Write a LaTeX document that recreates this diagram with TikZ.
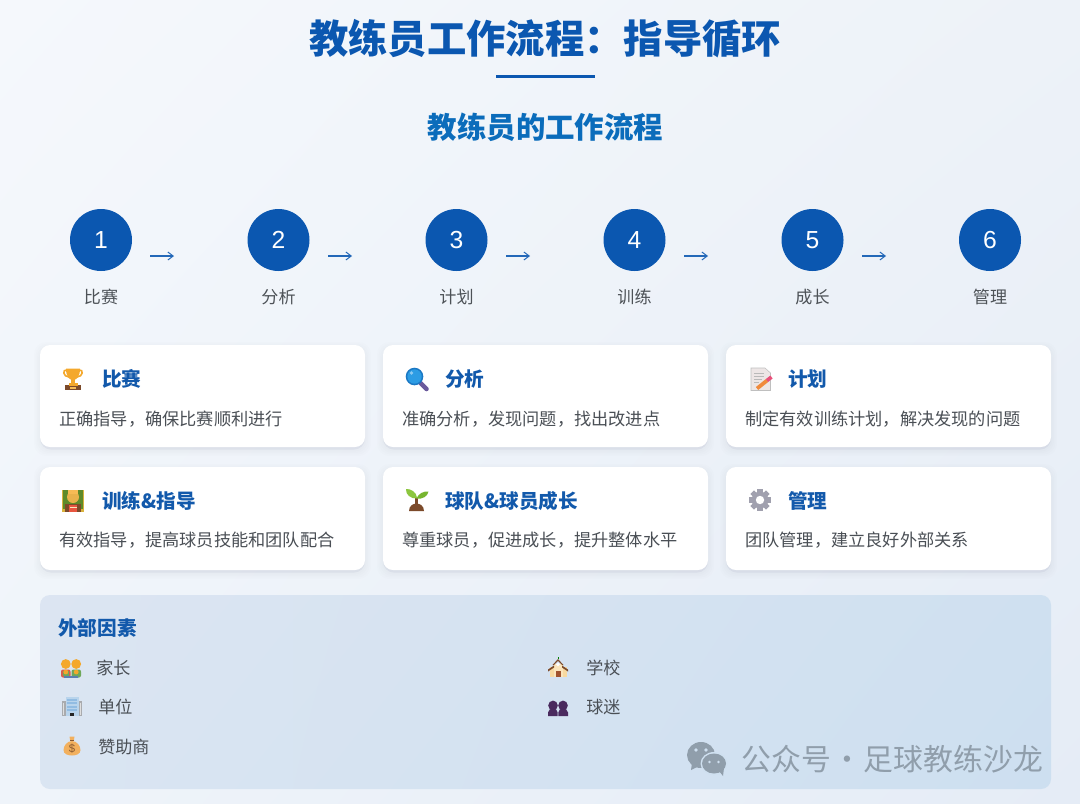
\documentclass[tikz,border=0pt]{standalone}
\usepackage{fontspec}
\setmainfont{Noto Sans CJK SC}
\newfontfamily\latinf{Liberation Sans}
\usetikzlibrary{arrows.meta,shadings}
\definecolor{bgA}{HTML}{F5F8FC}
\definecolor{bgB}{HTML}{EDF2F8}
\definecolor{bgC}{HTML}{EFF4FA}
\definecolor{bgD}{HTML}{E5ECF6}
\definecolor{panA}{HTML}{DCE5F2}
\definecolor{panB}{HTML}{CFE0F0}
\definecolor{panC}{HTML}{DAE5F2}
\definecolor{panD}{HTML}{CDDFF0}
\definecolor{mainblue}{HTML}{0B57B0}
\definecolor{subblue}{HTML}{0B6CBB}
\definecolor{cardblue}{HTML}{1259AB}
\definecolor{bodygray}{HTML}{4A4F55}
\definecolor{labelgray}{HTML}{4D5257}
\definecolor{markgray}{HTML}{909EAB}
\definecolor{gold}{HTML}{F4A82C}
\definecolor{goldlt}{HTML}{F7BB55}
\definecolor{brownd}{HTML}{7C4A2A}
\definecolor{lensring}{HTML}{1B78C4}
\definecolor{lensfill}{HTML}{2C9CE4}
\definecolor{lenshandle}{HTML}{6A5A9C}
\definecolor{paper}{HTML}{EDE6E6}
\definecolor{pencil}{HTML}{F08A3C}
\definecolor{pinktip}{HTML}{E8507A}
\definecolor{board}{HTML}{5E8A2A}
\definecolor{frameY}{HTML}{D9B23C}
\definecolor{skin}{HTML}{E9B24C}
\definecolor{tiered}{HTML}{E8553F}
\definecolor{leaf}{HTML}{8CC63F}
\definecolor{leafd}{HTML}{77B52F}
\definecolor{gearc}{HTML}{A0A0AE}
\definecolor{bodyred}{HTML}{D8604A}
\definecolor{bodygrn}{HTML}{6FA85A}
\definecolor{bodyblu}{HTML}{5A7FB0}
\definecolor{officeg}{HTML}{A9ABAE}
\definecolor{officeb}{HTML}{B9D4EC}
\definecolor{officew}{HTML}{92BCE2}
\definecolor{bagc}{HTML}{F2B05E}
\definecolor{bagd}{HTML}{8A5A30}
\definecolor{cream}{HTML}{F8D9A0}
\definecolor{creamb}{HTML}{FBE5BC}
\definecolor{doorc}{HTML}{A0522D}
\definecolor{fanc}{HTML}{4A2A5E}
\tikzset{
  titletxt/.style={inner sep=0pt,text height=26pt,text depth=3.5pt,font=\fontsize{29.5pt}{32pt}\selectfont\bfseries,text=mainblue},
  subtxt/.style={inner sep=0pt,text height=19.4pt,text depth=2.7pt,font=\fontsize{22.1pt}{25pt}\selectfont\bfseries,text=subblue},
  stepnode/.style={circle,fill=mainblue,minimum size=46.5pt,inner sep=0pt,text=white,font=\latinf\fontsize{18.5pt}{20pt}\selectfont},
  steplbl/.style={inner sep=0pt,text height=11.3pt,text depth=1.5pt,font=\fontsize{12.8pt}{15pt}\selectfont,text=labelgray},
  flowarrow/.style={draw=mainblue!90!white,line width=.85pt,-{Straight Barb[length=4pt,width=6pt,line width=.75pt]}},
  cardbox/.style={rectangle,rounded corners=7.5pt,fill=white,inner sep=0pt,minimum width=243.75pt},
  cardtitle/.style={inner sep=0pt,text height=12.9pt,text depth=1.8pt,anchor=west,font=\fontsize{14.7pt}{17pt}\selectfont\bfseries,text=cardblue},
  cardbody/.style={inner sep=0pt,text height=11.35pt,text depth=1.55pt,anchor=west,font=\fontsize{12.9pt}{15pt}\selectfont,text=bodygray},
  extitem/.style={inner sep=0pt,text height=11.3pt,text depth=1.5pt,anchor=west,font=\fontsize{12.8pt}{15pt}\selectfont,text=bodygray},
  marktxt/.style={inner sep=0pt,text height=19.8pt,text depth=2.7pt,anchor=west,font=\fontsize{22.4pt}{24pt}\selectfont,text=markgray},
}
% ---- icons, drawn about (0,0) in pixel units, y downwards
\newcommand\icontrophy{%
  \fill[brownd] (-8,6) rectangle (8,11);
  \fill[goldlt] (-3,7.5) rectangle (3,9.8);
  \fill[gold] (-2,0) rectangle (2,6);
  \fill[gold] (-4.5,4) rectangle (4.5,6.5);
  \draw[gold,line width=1.2pt] (-6,-9) .. controls (-11,-10) and (-10,-2) .. (-4,-2);
  \draw[gold,line width=1.2pt] (6,-9) .. controls (11,-10) and (10,-2) .. (4,-2);
  \fill[gold] (-7,-10.5) -- (7,-10.5) .. controls (7,-3) and (4,1) .. (0,1) .. controls (-4,1) and (-7,-3) .. (-7,-10.5) -- cycle;
}
\newcommand\iconlens{%
  \draw[line width=3.4pt,line cap=round,color=lenshandle] (4,4) -- (10,10);
  \fill[lensring] (-2,-2.5) circle (8.8);
  \fill[lensfill] (-2,-2.5) circle (7.2);
  \fill[white,opacity=.45] (-5,-6) circle (1.8);
}
\newcommand\iconmemo{%
  \fill[paper,draw=gray!50,line width=.4pt] (-10,-11) -- (4,-11) -- (9.5,-6) -- (9.5,11.5) -- (-10,11.5) -- cycle;
  \draw[gray!55,line width=.5pt] (-7,-6) -- (3,-6) (-7,-3) -- (3,-3) (-7,0) -- (1,0) (-7,3) -- (-2,3);
  \draw[pencil,line width=2.8pt] (-4,9.5) -- (6,1.5);
  \draw[pinktip,line width=2.8pt] (6,1.5) -- (10.5,-2);
}
\newcommand\iconcoach{%
  \fill[frameY] (-11,-11) rectangle (11,11);
  \fill[board] (-10,-10.5) rectangle (10,8);
  \fill[brownd] (-8,11) -- (-8,3.5) -- (8,3.5) -- (8,11) -- cycle;
  \fill[tiered] (-4,4.5) rectangle (4,11);
  \fill[creamb] (-3.5,6) rectangle (3.5,7.5);
  \fill[skin] (0,-3.5) circle (6);
  \fill[goldlt] (-5,-11) rectangle (5,-6.5);
}
\newcommand\iconsprout{%
  \fill[brownd] (-7.5,10.5) .. controls (-7.5,5) and (-3,3) .. (0,3) .. controls (3,3) and (7.5,5) .. (7.5,10.5) -- cycle;
  \fill[brownd] (-1.3,4) rectangle (1.3,-3);
  \fill[leaf] (0.8,-2) .. controls (0,-9) and (-6,-11.8) .. (-10.5,-11.5) .. controls (-11,-6) and (-6,-1.5) .. (0.8,-2) -- cycle;
  \fill[leafd] (0,-2) .. controls (2,-7) and (7,-9.5) .. (12,-9) .. controls (11,-4) and (6,-1) .. (0,-2) -- cycle;
}
\newcommand\icongear{%
  \foreach \a in {0,45,...,315}{\fill[gearc,rotate=\a] (-2.6,-11) rectangle (2.6,-6);}
  \fill[gearc] (0,0) circle (8.4);
  \fill[white] (0,0) circle (4.2);
}
\newcommand\iconparents{%
  \fill[bodyred,rounded corners=1.5pt] (-10,10) -- (-10,2) -- (-0.5,2) -- (-0.5,10) -- cycle;
  \fill[bodygrn,rounded corners=1.5pt] (0.5,10) -- (0.5,2) -- (10,2) -- (10,10) -- cycle;
  \fill[bodyblu] (-7,8) rectangle (7,10);
  \fill[bodygrn] (-8,3) rectangle (-2.5,8);
  \fill[gold] (-5.2,-3.5) circle (4.9);
  \fill[gold] (5.2,-3.5) circle (4.9);
  \fill[gold] (-5.2,4.5) circle (2.4);
  \fill[gold] (5.2,4.5) circle (2.4);
}
\newcommand\iconoffice{%
  \fill[officeg] (-10,-6) rectangle (10,9.5);
  \fill[officeb] (-6.5,-9.5) rectangle (6.5,9.5);
  \foreach \y in {-8,-4.5,-1,2.5}{\fill[officew] (-5,\y) rectangle (5,\y+2);}
  \fill[black!85] (-2,6) rectangle (2,9.5);
  \draw[white!75!gray,line width=.7pt] (-8.3,-4) -- (-8.3,8) (8.3,-4) -- (8.3,8);
}
\newcommand\iconbag{%
  \fill[bagc] (-2.5,-9.5) -- (2.5,-9.5) -- (1.8,-5) -- (-1.8,-5) -- cycle;
  \fill[bagc] (0,-5) .. controls (5,-5) and (8.5,0) .. (8.5,4) .. controls (8.5,8) and (4,9.5) .. (0,9.5) .. controls (-4,9.5) and (-8.5,8) .. (-8.5,4) .. controls (-8.5,0) and (-5,-5) .. (0,-5) -- cycle;
  \fill[bagd] (-2.2,-6) rectangle (2.2,-5);
  \node[inner sep=0pt,text=bagd,font=\latinf\fontsize{8.5pt}{9pt}\selectfont] (bagmark) at (0,3) {\$};
}
\newcommand\iconschool{%
  \fill[cream] (-8.5,0) rectangle (8.5,10);
  \fill[creamb] (-4.5,-3) rectangle (4.5,10);
  \fill[brownd] (-10,2.5) -- (-4,-1.5) -- (-4,0.5) -- (-10,4.5) -- cycle;
  \fill[brownd] (10,2.5) -- (4,-1.5) -- (4,0.5) -- (10,4.5) -- cycle;
  \fill[brownd] (0,-8) -- (5.5,-2) -- (4,-2) -- (0,-6.2) -- (-4,-2) -- (-5.5,-2) -- cycle;
  \fill[white] (0,-2.5) circle (1.8);
  \fill[doorc] (-2.5,4) rectangle (2.5,10);
  \draw[green!50!black,line width=.5pt] (0,-8) -- (0,-10);
}
\newcommand\iconfans{%
  \fill[fanc] (-10,7.5) -- (-10,4) .. controls (-10,1) and (-7,0) .. (-5,0) .. controls (-3,0) and (-0.3,1) .. (-0.3,4) -- (-0.3,7.5) -- cycle;
  \fill[fanc] (10,7.5) -- (10,4) .. controls (10,1) and (7,0) .. (5,0) .. controls (3,0) and (0.3,1) .. (0.3,4) -- (0.3,7.5) -- cycle;
  \fill[fanc] (-5,-3) ellipse (4.8 and 4.9);
  \fill[fanc] (5,-3) ellipse (4.8 and 4.9);
}
\begin{document}
\begin{tikzpicture}[x=.75pt,y=-.75pt]
\useasboundingbox (0,0) rectangle (1080,803);
\shade[upper left=bgA,upper right=bgB,lower left=bgC,lower right=bgD] (0,0) rectangle (1080,803);

\node[titletxt] (title) at (545,38) {教练员工作流程：指导循环};
\fill[mainblue] (496,75) rectangle (595,78.3);
\node[subtxt] (subtitle) at (545.5,127) {教练员的工作流程};

% steps
\foreach \i/\x/\t in {1/101/比赛,2/278.5/分析,3/456.5/计划,4/634.5/训练,5/812.5/成长,6/990/管理}{
  \node[stepnode] (s\i) at (\x,240) {\i};
  \node[steplbl] (l\i) at (\x,297) {\t};
}
\foreach \i/\x in {1/150,2/328,3/506,4/684,5/862}{
  \coordinate (as\i) at (\x,256);
  \coordinate (ae\i) at (\x+24,256);
  \draw[flowarrow] (as\i) -- (ae\i);
}

% card shadows
\foreach \a/\b/\h in {40/345/102,383/345/102,726/345/102,40/467/103,383/467/103,726/467/103}{
  \foreach \e in {0,1.5,3,4.5,6}{
    \fill[blue!30!black,opacity=.006,rounded corners=9pt] (\a-\e,\b+3-\e) rectangle (\a+325+\e,\b+\h+3+\e);
  }
  \fill[blue!30!black,opacity=.035,rounded corners=8pt] (\a,\b+1) rectangle (\a+325,\b+\h+2.5);
}
% cards
\node[cardbox,minimum height=76.5pt] (c1) at (202.5,396) {};
\node[cardbox,minimum height=76.5pt] (c2) at (545.5,396) {};
\node[cardbox,minimum height=76.5pt] (c3) at (888.5,396) {};
\node[cardbox,minimum height=77.25pt] (c4) at (202.5,518.5) {};
\node[cardbox,minimum height=77.25pt] (c5) at (545.5,518.5) {};
\node[cardbox,minimum height=77.25pt] (c6) at (888.5,518.5) {};

\begin{scope}[shift={(73,379)}]\icontrophy\end{scope}
\begin{scope}[shift={(416.5,379)}]\iconlens\end{scope}
\begin{scope}[shift={(761,379)}]\iconmemo\end{scope}
\begin{scope}[shift={(73,500.5)}]\iconcoach\end{scope}
\begin{scope}[shift={(416.5,500.5)}]\iconsprout\end{scope}
\begin{scope}[shift={(760,500)}]\icongear\end{scope}

\node[cardtitle] (ct1) at (102,379) {比赛};
\node[cardtitle] (ct2) at (445,379) {分析};
\node[cardtitle] (ct3) at (788,379) {计划};
\node[cardtitle] (ct4) at (102,501) {训练\&指导};
\node[cardtitle] (ct5) at (445,501) {球队\&球员成长};
\node[cardtitle] (ct6) at (788,501) {管理};
\node[cardbody] (cb1) at (59,418.5) {正确指导，确保比赛顺利进行};
\node[cardbody] (cb2) at (402,418.5) {准确分析，发现问题，找出改进点};
\node[cardbody] (cb3) at (745,418.5) {制定有效训练计划，解决发现的问题};
\node[cardbody] (cb4) at (59,540) {有效指导，提高球员技能和团队配合};
\node[cardbody] (cb5) at (402,540) {尊重球员，促进成长，提升整体水平};
\node[cardbody] (cb6) at (745,540) {团队管理，建立良好外部关系};

% external panel
\shade[upper left=panA,upper right=panB,lower left=panC,lower right=panD,rounded corners=7.5pt] (40,595) rectangle (1051,789);
\node[cardtitle] (ext) at (58,628) {外部因素};
\begin{scope}[shift={(71,667.5)}]\iconparents\end{scope}
\begin{scope}[shift={(72,706.5)}]\iconoffice\end{scope}
\begin{scope}[shift={(72,746)}]\iconbag\end{scope}
\begin{scope}[shift={(558,667)}]\iconschool\end{scope}
\begin{scope}[shift={(558,708.5)}]\iconfans\end{scope}
\node[extitem] (e1) at (96,668) {家长};
\node[extitem] (e2) at (98,707) {单位};
\node[extitem] (e3) at (98,747) {赞助商};
\node[extitem] (e4) at (586,668) {学校};
\node[extitem] (e5) at (586,707) {球迷};

% watermark
\fill[markgray] (701,755) ellipse (14 and 13);
\fill[markgray] (692,763) -- (691,770) -- (699,766) -- cycle;
\fill[panB] (714,763.5) ellipse (13.5 and 11.5);
\fill[markgray] (714,763.5) ellipse (12 and 10);
\fill[markgray] (719,771) -- (723,776) -- (724,768) -- cycle;
\fill[panB] (696,750) circle (1.8) (706,750) circle (1.8) (709.5,762) circle (1.4) (718.5,762) circle (1.4);
\node[marktxt] (mark) at (741,759) {公众号\hspace{.05em}·\hspace{.05em}足球教练沙龙};
\end{tikzpicture}
\end{document}
